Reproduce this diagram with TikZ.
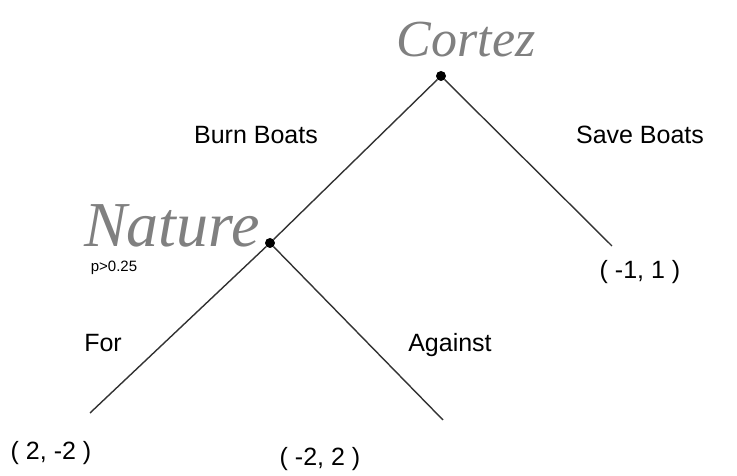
\documentclass[tikz,border=0pt]{standalone}
\usepackage{fontspec}
\setmainfont{Liberation Sans}
\newfontfamily\scriptfam{Liberation Serif}
\begin{document}
\begin{tikzpicture}[x=1pt,y=1pt,
  dotnode/.style={circle,fill=black,inner sep=0pt,minimum size=10pt},
  branch/.style={draw=black!80,line width=1.4pt},
  lbl/.style={font=\fontsize{25}{29}\selectfont,inner sep=0pt},
  small/.style={font=\fontsize{15}{17}\selectfont,inner sep=0pt},
  player/.style={font=\scriptfam\itshape,text=black!50,inner sep=0pt}]
\useasboundingbox (0,0) rectangle (737,476);
\node[dotnode] (cortez) at (441,400) {};
\node[dotnode] (nature) at (270,233) {};
\coordinate (lleaf) at (90,63);
\coordinate (mleaf) at (443,56);
\coordinate (rleaf) at (612,230);
\draw[branch] (cortez) -- (nature);
\draw[branch] (cortez) -- (rleaf);
\draw[branch] (nature) -- (lleaf);
\draw[branch] (nature) -- (mleaf);
\node[player,font=\scriptfam\itshape\fontsize{52}{56}\selectfont] (cname) at (466,436) {Cortez};
\node[player,font=\scriptfam\itshape\fontsize{64}{68}\selectfont] (nname) at (172,250) {Nature};
\node[lbl] (burn) at (256,341) {Burn Boats};
\node[lbl] (save) at (640,341) {Save Boats};
\node[small] (prob) at (114,208) {p>0.25};
\node[lbl] (for) at (103,133) {For};
\node[lbl] (against) at (450,131) {Against};
\node[lbl] (pr) at (640,204) {( -1, 1 )};
\node[lbl] (pl) at (51,23) {( 2, -2 )};
\node[lbl] (pm) at (320,17) {( -2, 2 )};
\end{tikzpicture}
\end{document}
